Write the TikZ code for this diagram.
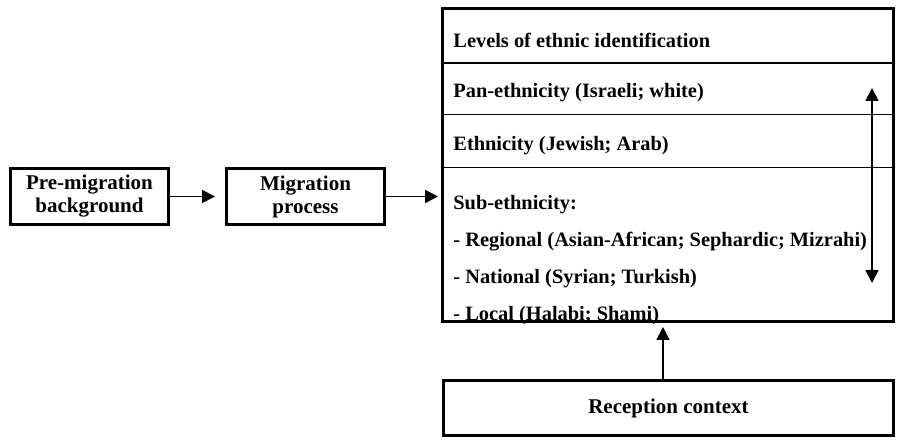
\documentclass[tikz,border=0pt]{standalone}
\usepackage{fontspec}
\setmainfont{Liberation Serif}
\usetikzlibrary{arrows.meta,positioning}
\tikzset{
    %Define standard arrow tip
    >={Triangle[length=6.5pt,width=6.5pt]},
    %Define style for boxes
    blocknode/.style={
             rectangle,
             draw=black, line width=1.5pt,
             align=center,
             font=\bfseries\fontsize{10.5}{11.5}\selectfont},
    levelnode/.style={
             anchor=base west,
             inner sep=0pt,
             font=\bfseries\fontsize{10.2}{12.5}\selectfont},
    % Define arrow style
    flowarrow/.style={
            ->,
            line width=0.85pt},
    divider/.style={
            line width=0.5pt}
}

\begin{document}
\begin{tikzpicture}[x=0.5pt, y=-0.5pt]
 \useasboundingbox (0,0) rectangle (899,442);
 \node[blocknode, minimum width=79pt, minimum height=26pt] (pre) at (89.5,196.5) {Pre-migration\\background};
 \node[blocknode, minimum width=79pt, minimum height=26pt] (mig) at (305.5,196.5) {Migration\\process};
 \node[blocknode, minimum width=225.5pt, minimum height=156.5pt] (levels) at (668,165) {};
 \node[blocknode, minimum width=225pt, minimum height=27.5pt] (rec) at (668.5,408) {Reception context};
% rows of the levels box
 \draw[line width=1pt] (levels.west |- 0,63) -- (levels.east |- 0,63);
 \draw[divider] (levels.west |- 0,115) -- (levels.east |- 0,115);
 \draw[divider] (levels.west |- 0,168) -- (levels.east |- 0,168);
 \node[levelnode] (title) at (453,48) {Levels of ethnic identification};
 \node[levelnode] (pan) at (453,98) {Pan-ethnicity (Israeli; white)};
 \node[levelnode] (eth) at (453,151) {Ethnicity (Jewish; Arab)};
 \node[levelnode] (sub) at (453,210) {Sub-ethnicity:};
 \node[levelnode] (regional) at (453,247) {- Regional (Asian-African; Sephardic; Mizrahi)};
 \node[levelnode] (national) at (453,284) {- National (Syrian; Turkish)};
 \node[levelnode] (local) at (453,321) {- Local (Halabi; Shami)};
 \coordinate (uptip) at (872,88);
 \coordinate (downtip) at (872,283);
 \coordinate (recfoot) at (663,379);
 \path (pre.east) edge[flowarrow, shorten >=5pt] (mig.west)
       (mig.east) edge[flowarrow, shorten >=1.5pt] (mig.east -| levels.west)
       (recfoot) edge[flowarrow, shorten >=2pt] (recfoot |- levels.south)
       (uptip) edge[flowarrow, <->] (downtip);
\end{tikzpicture}
\end{document}
